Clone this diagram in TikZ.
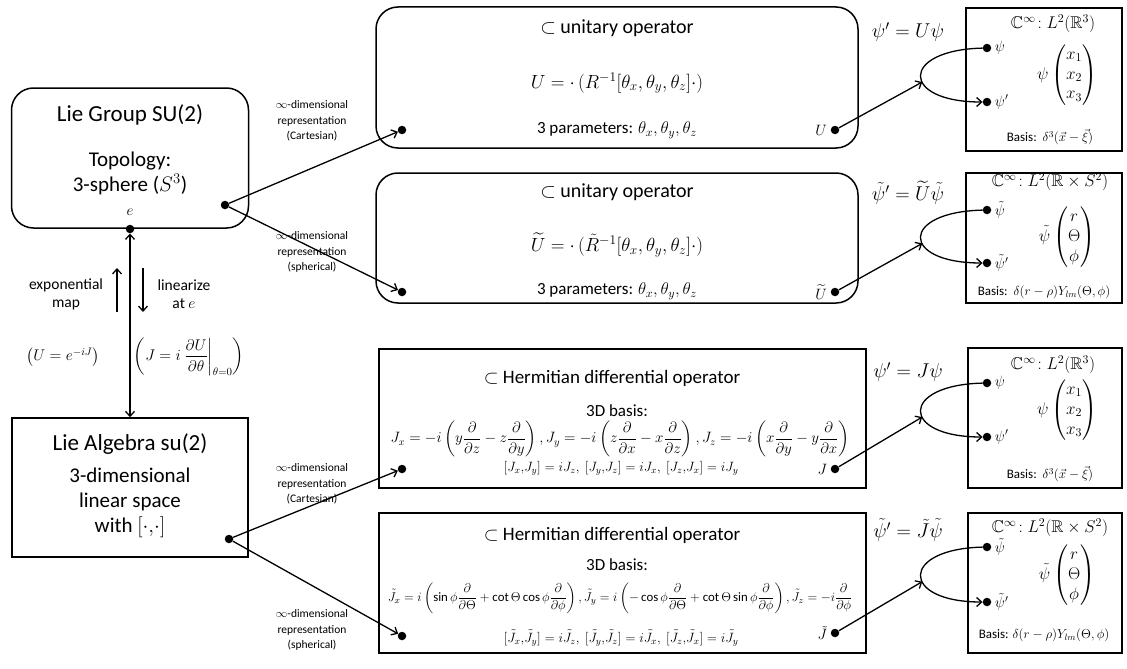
\RequirePackage{fix-cm}
\documentclass[tikz,border=0pt]{standalone}
\usepackage{amsmath,amssymb}
\usepackage{fontspec}
\setmainfont{Carlito}
\usetikzlibrary{arrows.meta,positioning}

\begin{document}
\begin{tikzpicture}[x=1pt, y=-1pt,
    >={Straight Barb[length=5pt,width=9pt]},
    roundbox/.style={rectangle, draw, line width=1.5pt, rounded corners=22pt},
    sharpbox/.style={rectangle, draw, line width=1.5pt},
    title/.style={font=\fontsize{23}{27}\selectfont, align=center},
    body/.style={font=\fontsize{21}{25}\selectfont, align=center},
    optitle/.style={font=\fontsize{20}{24}\selectfont},
    param/.style={font=\fontsize{17}{20}\selectfont},
    formula/.style={font=\fontsize{19}{22}\selectfont},
    comm/.style={font=\fontsize{13.5}{16}\selectfont},
    replabel/.style={font=\fontsize{11.5}{15.5}\selectfont, align=center},
    maplabel/.style={font=\fontsize{15.5}{18}\selectfont, align=center},
    statetitle/.style={font=\fontsize{17}{20}\selectfont},
    state/.style={font=\fontsize{15}{18}\selectfont},
    action/.style={font=\fontsize{20}{24}\selectfont},
    basis/.style={font=\fontsize{13}{16}\selectfont},
    dot/.style={circle, fill, inner sep=0pt, minimum size=8.5pt},
    arrow/.style={->, line width=1.3pt}
]
    \useasboundingbox (0,0) rectangle (1127,669);

    % Lie group and Lie algebra
    \node[roundbox, minimum width=237pt, minimum height=140pt] (group) at (130,158) {};
    \node[title] (grouptitle) at (130,115) {Lie Group SU(2)};
    \node[body] (grouptopo) at (130,173) {Topology:\\3-sphere ($S^3$)};
    \node[state] (elabel) at (130,212) {$e$};
    \node[dot] (edot) at (130,229) {};
    \node[dot] (gdot) at (225,205) {};

    \node[sharpbox, minimum width=236pt, minimum height=139pt] (algebra) at (130,487.5) {};
    \node[title] (algtitle) at (130,444) {Lie Algebra su(2)};
    \node[body] (algspace) at (130,503) {3-dimensional\\linear space\\with $[\cdot{,}\cdot]$};
    \node[dot] (adot) at (229,539) {};

    % Exponential map / linearization
    \draw[<->, line width=1.3pt] (edot) -- (algebra);
    \coordinate (expS) at (117,312);
    \coordinate (expN) at (117,268);
    \coordinate (linN) at (143,268);
    \coordinate (linS) at (143,312);
    \draw[arrow] (expS) -- (expN);
    \draw[arrow] (linN) -- (linS);
    \node[maplabel] (explabel) at (66,294) {exponential\\map};
    \node[maplabel] (linlabel) at (184,294) {linearize\\at $e$};
    \node[maplabel] (expform) at (63,357) {$\left(U = e^{-iJ}\right)$};
    \node[maplabel] (linform) at (189,357) {$\left(J = i\left.\dfrac{\partial U}{\partial\theta}\right|_{\theta=0}\right)$};

    % Representation labels
    \node[replabel] (repA) at (312,121) {$\infty$-dimensional\\representation\\(Cartesian)};
    \node[replabel] (repB) at (312,252) {$\infty$-dimensional\\representation\\(spherical)};
    \node[replabel] (repC) at (312,484) {$\infty$-dimensional\\representation\\(Cartesian)};
    \node[replabel] (repD) at (312,630) {$\infty$-dimensional\\representation\\(spherical)};

    % Unitary operators
    \node[roundbox, minimum width=482pt, minimum height=141pt] (unitA) at (617,77.5) {};
    \node[optitle] (unitAtitle) at (617,28) {$\subset$ unitary operator};
    \node[formula] (unitAform) at (617,83) {$U = \cdot\,(R^{-1}[\theta_x,\theta_y,\theta_z]\cdot)$};
    \node[param] (unitApar) at (617,130) {3 parameters: $\theta_x,\theta_y,\theta_z$};
    \node[dot] (uAin) at (402,130) {};
    \node[dot, label={[state]left:$U$}] (uA) at (835,130) {};

    \node[roundbox, minimum width=482pt, minimum height=130pt] (unitB) at (617,238) {};
    \node[optitle] (unitBtitle) at (617,192) {$\subset$ unitary operator};
    \node[formula] (unitBform) at (617,245) {$\widetilde{U} = \cdot\,(\tilde{R}^{-1}[\theta_x,\theta_y,\theta_z]\cdot)$};
    \node[param] (unitBpar) at (617,291) {3 parameters: $\theta_x,\theta_y,\theta_z$};
    \node[dot] (uBin) at (402,292) {};
    \node[dot, label={[state]left:$\widetilde{U}$}] (uB) at (835,292) {};

    % Hermitian operators
    \node[sharpbox, minimum width=487pt, minimum height=139pt] (hermA) at (622.5,418.5) {};
    \node[optitle, font=\fontsize{19}{23}\selectfont] (hermAtitle) at (612,378) {$\subset$ Hermitian differential operator};
    \node[param] (hermAbasis) at (617,411) {3D basis:};
    \node[font=\fontsize{15}{18}\selectfont] (hermAform) at (620,439) {$J_x = -i\left(y\dfrac{\partial}{\partial z} - z\dfrac{\partial}{\partial y}\right), J_y = -i\left(z\dfrac{\partial}{\partial x} - x\dfrac{\partial}{\partial z}\right), J_z = -i\left(x\dfrac{\partial}{\partial y} - y\dfrac{\partial}{\partial x}\right)$};
    \node[comm] (hermAcomm) at (621,468) {$[J_x{,}J_y] = iJ_z,\ [J_y{,}J_z] = iJ_x,\ [J_z{,}J_x] = iJ_y$};
    \node[dot] (jAin) at (402,469) {};
    \node[dot, label={[state]left:$J$}] (jA) at (835,469) {};

    \node[sharpbox, minimum width=487pt, minimum height=140pt] (hermB) at (622.5,583) {};
    \node[optitle, font=\fontsize{19}{23}\selectfont] (hermBtitle) at (612,535) {$\subset$ Hermitian differential operator};
    \node[param] (hermBbasis) at (617,565) {3D basis:};
    \node[font=\fontsize{12.8}{15}\selectfont] (hermBform) at (620,598) {$\tilde{J}_x = i\left(\sin\phi\dfrac{\partial}{\partial\Theta} + \cot\Theta\cos\phi\dfrac{\partial}{\partial\phi}\right), \tilde{J}_y = i\left(-\cos\phi\dfrac{\partial}{\partial\Theta} + \cot\Theta\sin\phi\dfrac{\partial}{\partial\phi}\right), \tilde{J}_z = -i\dfrac{\partial}{\partial\phi}$};
    \node[comm] (hermBcomm) at (621,638) {$[\tilde{J}_x{,}\tilde{J}_y] = i\tilde{J}_z,\ [\tilde{J}_y{,}\tilde{J}_z] = i\tilde{J}_x,\ [\tilde{J}_z{,}\tilde{J}_x] = i\tilde{J}_y$};
    \node[dot] (jBin) at (402,636) {};
    \node[dot, label={[state]left:$\tilde{J}$}] (jB) at (835,633) {};

    % Representation arrows
    \draw[arrow] (gdot) -- (uAin);
    \draw[arrow] (gdot) -- (uBin);
    \draw[arrow] (adot) -- (jAin);
    \draw[arrow] (adot) -- (jBin);

    % State spaces
    \node[sharpbox, minimum width=156pt, minimum height=143pt] (spaceA) at (1044,79.5) {};
    \node[statetitle] (spaceAtitle) at (1053,24) {$\mathbb{C}^\infty\!: L^2(\mathbb{R}^3)$};
    \node[dot, label={[state]right:$\psi$}] (psiA) at (987,48) {};
    \node[dot, label={[state]right:$\psi'$}] (psiAp) at (987,102) {};
    \node[statetitle] (vecA) at (1067,75) {$\psi\begin{pmatrix}x_1\\x_2\\x_3\end{pmatrix}$};
    \node[basis] (basisA) at (1050,137) {Basis:\ \ $\delta^3(\vec{x}-\vec{\xi})$};
    \node[action] (actA) at (908,32) {$\psi' = U\psi$};

    \node[sharpbox, minimum width=156pt, minimum height=130pt] (spaceB) at (1044,238) {};
    \node[statetitle] (spaceBtitle) at (1050,182) {$\mathbb{C}^\infty\!: L^2(\mathbb{R}\times S^2)$};
    \node[dot, label={[state]right:$\tilde{\psi}$}] (psiB) at (987,210) {};
    \node[dot, label={[state]right:$\tilde{\psi}'$}] (psiBp) at (987,263) {};
    \node[statetitle] (vecB) at (1067,237) {$\tilde{\psi}\begin{pmatrix}r\\\Theta\\\phi\end{pmatrix}$};
    \node[basis] (basisB) at (1044,292) {Basis:\ \ $\delta(r-\rho)Y_{lm}(\Theta,\phi)$};
    \node[action] (actB) at (908,193) {$\tilde{\psi}' = \widetilde{U}\tilde{\psi}$};

    \node[sharpbox, minimum width=154pt, minimum height=140pt] (spaceC) at (1045,418) {};
    \node[statetitle] (spaceCtitle) at (1053,365) {$\mathbb{C}^\infty\!: L^2(\mathbb{R}^3)$};
    \node[dot, label={[state]right:$\psi$}] (psiC) at (987,383) {};
    \node[dot, label={[state]right:$\psi'$}] (psiCp) at (987,437) {};
    \node[statetitle] (vecC) at (1067,410) {$\psi\begin{pmatrix}x_1\\x_2\\x_3\end{pmatrix}$};
    \node[basis] (basisC) at (1050,474) {Basis:\ \ $\delta^3(\vec{x}-\vec{\xi})$};
    \node[action] (actC) at (908,372) {$\psi' = J\psi$};

    \node[sharpbox, minimum width=154pt, minimum height=140pt] (spaceD) at (1045,583) {};
    \node[statetitle] (spaceDtitle) at (1050,528) {$\mathbb{C}^\infty\!: L^2(\mathbb{R}\times S^2)$};
    \node[dot, label={[state]right:$\tilde{\psi}$}] (psiD) at (987,547) {};
    \node[dot, label={[state]right:$\tilde{\psi}'$}] (psiDp) at (987,602) {};
    \node[statetitle] (vecD) at (1067,575) {$\tilde{\psi}\begin{pmatrix}r\\\Theta\\\phi\end{pmatrix}$};
    \node[basis] (basisD) at (1044,635) {Basis: $\delta(r-\rho)Y_{lm}(\Theta,\phi)$};
    \node[action] (actD) at (908,530) {$\tilde{\psi}' = \tilde{J}\tilde{\psi}$};

    % Action on states
    \draw[arrow] (psiA) .. controls (900,50) and (900,102) .. coordinate[pos=0.58] (forkA) (psiAp);
    \draw[arrow] (uA) -- (forkA);
    \draw[arrow] (psiB) .. controls (900,212) and (900,263) .. coordinate[pos=0.58] (forkB) (psiBp);
    \draw[arrow] (uB) -- (forkB);
    \draw[arrow] (psiC) .. controls (900,385) and (900,437) .. coordinate[pos=0.58] (forkC) (psiCp);
    \draw[arrow] (jA) -- (forkC);
    \draw[arrow] (psiD) .. controls (900,549) and (900,602) .. coordinate[pos=0.58] (forkD) (psiDp);
    \draw[arrow] (jB) -- (forkD);

\end{tikzpicture}
\end{document}
